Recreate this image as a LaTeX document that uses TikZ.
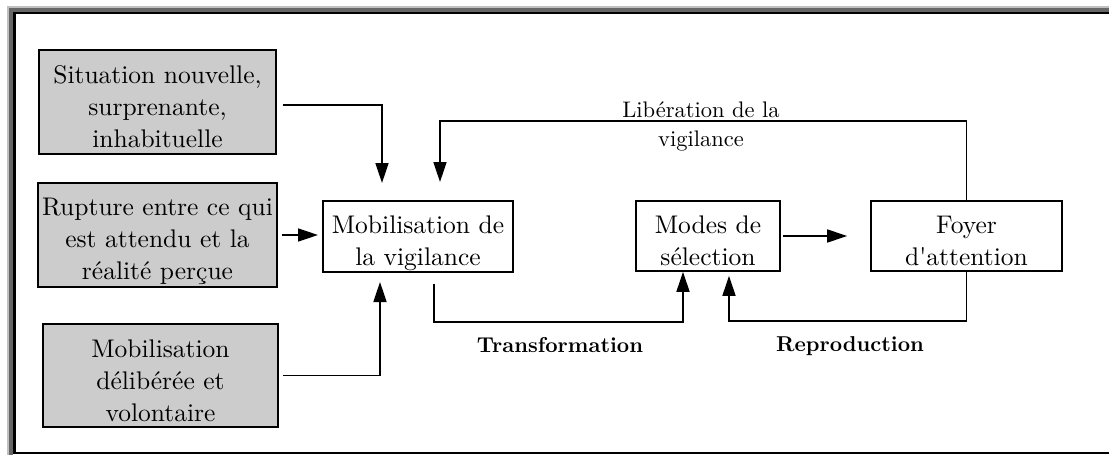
\documentclass[tikz,border=0pt]{standalone}
\usepackage{fontspec}
\setmainfont{lmroman10}[Extension=.otf, UprightFont=*-regular, BoldFont=*-bold, ItalicFont=*-italic]
\usetikzlibrary{arrows.meta}
\definecolor{boxgray}{RGB}{204,204,204}
\definecolor{framelight}{RGB}{192,192,192}
\definecolor{framedark}{RGB}{102,102,102}
\newcommand\tstr{\rule{0pt}{31pt}}
\newcommand\bstr{\rule[-4pt]{0pt}{4pt}}
\begin{document}
\begin{tikzpicture}[x=1pt,y=-1pt,
  box/.style={draw=black, line width=1.7pt, inner sep=0pt, align=center, font=\fontsize{25.5}{32}\selectfont},
  src/.style={box, fill=boxgray},
  arr/.style={line width=1.7pt, -{Triangle[length=20pt,width=13pt]}},
  lab/.style={inner sep=0pt, align=center, font=\fontsize{22.5}{29}\selectfont},
  blab/.style={inner sep=0pt, font=\fontsize{21.5}{24}\selectfont\bfseries}]
\useasboundingbox (0,0) rectangle (1109,455);
% frame
\fill[framelight] (7,6) rectangle (1109,8);
\fill[framelight] (7,6) rectangle (9,455);
\fill[framedark] (9,8) rectangle (1109,11.5);
\fill[framedark] (9,8) rectangle (13,455);
\fill[black] (13,11.5) rectangle (1109,14);
\fill[black] (13,11.5) rectangle (15.5,454);
\fill[black] (13,451.5) rectangle (1109,454);
% boxes
\node[src, minimum width=237pt, minimum height=104pt] (sit) at (157.5,102) {\tstr Situation nouvelle,\\surprenante,\\inhabituelle\bstr};
\node[src, minimum width=239pt, minimum height=104pt] (rup) at (157.5,235) {\tstr Rupture entre ce qui\\est attendu et la\\réalité perçue\bstr};
\node[src, minimum width=235pt, minimum height=103pt] (del) at (160.5,375.5) {\tstr Mobilisation\\délibérée et\\volontaire\bstr};
\node[box, minimum width=190pt, minimum height=71pt] (mob) at (418,236.5) {\tstr Mobilisation de\\la vigilance\bstr};
\node[box, minimum width=144pt, minimum height=70pt] (sel) at (708,236) {\tstr Modes de\\sélection\bstr};
\node[box, minimum width=191pt, minimum height=70pt] (foy) at (966.5,236) {\tstr Foyer\\d\textquotesingle attention\bstr};
% labels
\node[lab] (libl) at (701,119) {\tstr Libération de la\\vigilance\bstr};
\node[blab] (trl) at (560,338.5) {\tstr Transformation\bstr};
\node[blab] (rpl) at (850,338.5) {\tstr Reproduction\bstr};
% coordinates
\coordinate (t1) at (382,183);
\coordinate (t2) at (318,235);
\coordinate (t3) at (380,282);
\coordinate (lib) at (440,121);
\coordinate (t4) at (440,182);
\coordinate (tra) at (683,322);
\coordinate (rep) at (729,321);
% connectors
\draw[arr] ([xshift=6pt,yshift=-3pt]sit.east) -| (t1);
\draw[arr] ([xshift=4pt]rup.east) -- (t2);
\draw[arr] ([xshift=4pt]del.east) -| (t3);
\draw[arr] (foy.north) |- (lib) -- (t4);
\draw[arr] ([xshift=16pt,yshift=-11pt]mob.south) |- (tra) -- ([xshift=-25pt]sel.south);
\draw[arr] (foy.south) |- (rep) -- ([xshift=21pt,yshift=-4pt]sel.south);
\draw[arr] ([xshift=2pt]sel.east) -- ([xshift=-23pt]foy.west);
\end{tikzpicture}
\end{document}
